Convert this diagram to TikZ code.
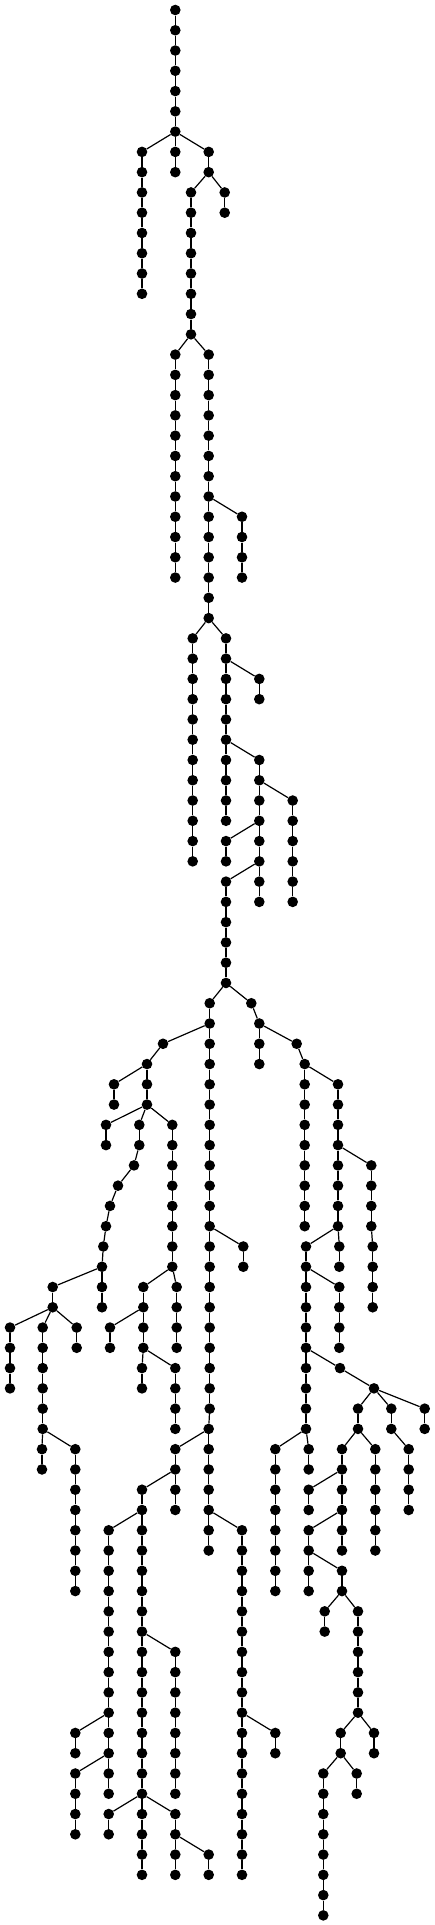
\documentclass[tikz,border=0pt]{standalone}
\usepackage{tikz}
\tikzset{
  dot/.style={circle,fill=black,draw=none,inner sep=0pt,minimum size=10.6pt},
  edge/.style={line width=1.2pt,black}
}
\newcommand\Chain[5]{%
  \foreach \lev in {#3,...,#4}{\node[dot] (#1-\lev) at (#2,\lev) {};}%
  \draw[edge] (#5) -- (#1-#3);%
  \foreach \lev in {#3,...,#4}{\pgfmathtruncatemacro\prevlev{\lev-1}\ifnum\lev>#3\relax \draw[edge] (#1-\prevlev) -- (#1-\lev);\fi}%
}
\begin{document}
\begin{tikzpicture}[x=1pt,y=-20.27pt]
\useasboundingbox (0,-0.4933) rectangle (435,94.475);
\node[dot] (a-0) at (175.3,0) {};
\Chain{a}{175.3}{1}{6}{a-0}
\Chain{b}{142}{7}{14}{a-6}
\Chain{c}{175.3}{7}{8}{a-6}
\Chain{d}{208.7}{7}{8}{a-6}
\Chain{f}{224.7}{9}{10}{d-8}
\Chain{e}{191}{9}{16}{d-8}
\Chain{g}{175.3}{17}{28}{e-16}
\Chain{h}{208.7}{17}{30}{e-16}
\Chain{i}{242}{25}{28}{h-24}
\Chain{j}{192.7}{31}{42}{h-30}
\Chain{k}{226}{31}{40}{h-30}
\Chain{m}{259.3}{33}{34}{k-32}
\Chain{p}{259.3}{37}{44}{k-36}
\Chain{q}{292.7}{39}{44}{p-38}
\Chain{r}{226}{41}{42}{p-40}
\Chain{s}{226}{43}{48}{p-42}
% middle-left branch
\Chain{t}{209.7}{49}{69}{s-48}
\Chain{ta}{208.7}{70}{74}{t-69}
\Chain{tb}{208.7}{75}{76}{ta-74}
\Chain{tc}{242}{75}{84}{ta-74}
\Chain{td}{242}{85}{92}{tc-84}
\Chain{te}{275.3}{85}{86}{tc-84}
\Chain{tf}{243.3}{61}{62}{t-60}
\Chain{tg}{175.3}{71}{72}{ta-70}
\Chain{th}{175.3}{73}{74}{tg-72}
\Chain{ti}{142}{73}{74}{tg-72}
\Chain{tj}{108.7}{75}{84}{ti-74}
\Chain{tk}{142}{75}{80}{ti-74}
\Chain{tl}{142}{81}{88}{tk-80}
\Chain{tm}{175.3}{81}{88}{tk-80}
\Chain{tn}{108.7}{89}{90}{tl-88}
\Chain{to}{142}{89}{92}{tl-88}
\Chain{tp}{175.3}{89}{90}{tl-88}
\Chain{tq}{175.3}{91}{92}{tp-90}
\Chain{tr}{208.7}{91}{92}{tp-90}
\Chain{ts}{75.3}{85}{86}{tj-84}
\Chain{tt}{108.7}{85}{86}{tj-84}
\Chain{tu}{75.3}{87}{90}{tt-86}
\Chain{tv}{108.7}{87}{88}{tt-86}
% far-left branch
\Chain{la}{163}{51}{51}{t-50}
\Chain{lb}{147}{52}{54}{la-51}
\Chain{lc}{114}{53}{54}{lb-52}
\Chain{ld}{106}{55}{56}{lb-54}
\Chain{le}{139.3}{55}{56}{lb-54}
\Chain{lf}{134}{57}{57}{le-56}
\Chain{lg}{118}{58}{58}{lf-57}
\Chain{lh}{110}{59}{59}{lg-58}
\Chain{li}{106}{60}{60}{lh-59}
\Chain{lj}{103.3}{61}{61}{li-60}
\Chain{lk}{102}{62}{62}{lj-61}
\Chain{ll}{52.7}{63}{64}{lk-62}
\Chain{lm}{102}{63}{64}{lk-62}
\Chain{ln}{10}{65}{68}{ll-64}
\Chain{lo}{42.7}{65}{70}{ll-64}
\Chain{lp}{76.7}{65}{66}{ll-64}
\Chain{lq}{42}{71}{72}{lo-70}
\Chain{lr}{75.3}{71}{78}{lo-70}
\Chain{ls}{172.3}{55}{62}{lb-54}
\Chain{lt}{143.3}{63}{66}{ls-62}
\Chain{lu}{176.7}{63}{66}{ls-62}
\Chain{lv}{110}{65}{66}{lt-64}
\Chain{lw}{142}{67}{68}{lt-66}
\Chain{lx}{175.3}{67}{70}{lt-66}
% right branch
\Chain{u}{251.3}{49}{49}{s-48}
\Chain{ua}{259.3}{50}{50}{u-49}
\Chain{v}{259.3}{51}{52}{ua-50}
\Chain{w}{296.7}{51}{51}{ua-50}
\Chain{wa}{304.7}{52}{52}{w-51}
\Chain{x}{304.7}{53}{60}{wa-52}
\Chain{y}{338}{53}{60}{wa-52}
\Chain{z}{371.3}{57}{60}{y-56}
\Chain{za}{372.7}{61}{64}{z-60}
\Chain{ya}{339.3}{61}{62}{y-60}
\Chain{A}{306}{61}{70}{y-60}
\Chain{B}{339.3}{63}{66}{A-62}
\Chain{C}{340}{67}{67}{A-66}
\Chain{D}{374}{68}{68}{C-67}
\Chain{E}{275.3}{71}{78}{A-70}
\Chain{F}{308.7}{71}{72}{A-70}
\Chain{G}{424.7}{69}{70}{D-68}
\Chain{H}{391.3}{69}{70}{D-68}
\Chain{I}{408.7}{71}{74}{H-70}
\Chain{J}{358}{69}{70}{D-68}
\Chain{K}{375.3}{71}{76}{J-70}
\Chain{M}{342}{71}{72}{J-70}
\Chain{N}{308.7}{73}{74}{M-72}
\Chain{O}{342}{73}{74}{M-72}
\Chain{P}{342}{75}{76}{O-74}
\Chain{Q}{308.7}{75}{76}{O-74}
\Chain{R}{308.7}{77}{78}{Q-76}
\Chain{S}{342}{77}{78}{Q-76}
\Chain{T}{324.7}{79}{80}{S-78}
\Chain{U}{358}{79}{84}{S-78}
\Chain{V}{374}{85}{86}{U-84}
\Chain{W}{340.7}{85}{86}{U-84}
\Chain{X}{323.3}{87}{94}{W-86}
\Chain{Y}{356.7}{87}{88}{W-86}
\end{tikzpicture}
\end{document}
